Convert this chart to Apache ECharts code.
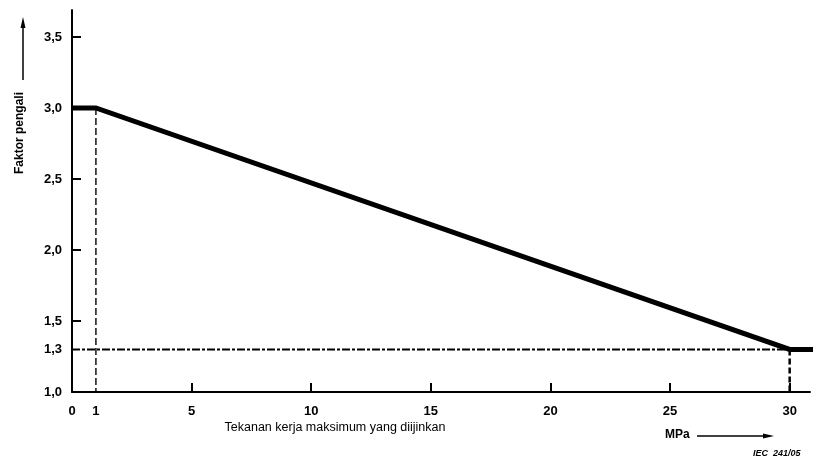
<!DOCTYPE html>
<html>
<head>
<meta charset="utf-8">
<script src="https://cdn.jsdelivr.net/npm/echarts@6/dist/echarts.min.js"></script>
<style>
  *{margin:0;padding:0}
  body{background:#fff}
  #c{width:830px;height:466px}
</style>
</head>
<body>
<div id="c"></div>
<script>
// faktor pengali vs tekanan kerja
const curveX = [0, 1, 30, 31];
const curveY = [3.0, 3.0, 1.3, 1.3];
const refV1 = [[1, 3.0], [1, 1.0]];
const refH = [[0, 1.3], [30, 1.3]];
const refV30 = [[30, 1.3], [30, 1.0]];
const xLabels = [0, 1, 5, 10, 15, 20, 25, 30];
const xTicks = [5, 10, 15, 20, 25, 30];
const yLabels = [1.0, 1.3, 1.5, 2.0, 2.5, 3.0, 3.5];
const yTicks = [1.5, 2.0, 2.5, 3.0, 3.5];

const FONT = 'Liberation Sans';
const INK = '#000';
const comma = v => v.toFixed(1).replace('.', ',');

const chart = echarts.init(document.getElementById('c'));
chart.setOption({
  animation: false,
  backgroundColor: '#fff',
  grid: { left: 72, top: 10, right: 20, bottom: 74, containLabel: false },
  xAxis: {
    type: 'value', min: 0, max: 30.85, interval: 5,
    splitLine: { show: false },
    axisLine: { lineStyle: { color: INK, width: 2 } },
    axisTick: { inside: true, length: 9, lineStyle: { color: INK, width: 2 }, customValues: xTicks },
    axisLabel: { color: INK, fontFamily: FONT, fontSize: 13, fontWeight: 'bold', margin: 13,
      customValues: xLabels, formatter: v => String(v) }
  },
  yAxis: {
    type: 'value', min: 1, max: 3.69, interval: 0.5,
    splitLine: { show: false },
    axisLine: { lineStyle: { color: INK, width: 2 } },
    axisTick: { inside: true, length: 9, lineStyle: { color: INK, width: 2 }, customValues: yTicks },
    axisLabel: { color: INK, fontFamily: FONT, fontSize: 13, fontWeight: 'bold', margin: 10,
      customValues: yLabels, formatter: v => comma(v) }
  },
  series: [
    { type: 'line', data: refV1, symbol: 'none', silent: true,
      lineStyle: { color: INK, width: 1.4, type: [7, 3] } },
    { type: 'line', data: refH, symbol: 'none', silent: true,
      lineStyle: { color: INK, width: 2, type: [8, 2, 3, 2] } },
    { type: 'line', data: refV30, symbol: 'none', silent: true,
      lineStyle: { color: INK, width: 2.5, type: [6, 3] } },
    { type: 'line', data: curveX.map((x, i) => [x, curveY[i]]), symbol: 'none', clip: false,
      lineStyle: { color: INK, width: 5, cap: 'butt', join: 'miter' } }
  ],
  graphic: [
    { type: 'text', x: 20, y: 133, rotation: Math.PI / 2,
      style: { text: 'Faktor pengali', fill: INK, font: 'bold 12px "Liberation Sans"', align: 'center', verticalAlign: 'middle' } },
    { type: 'line', shape: { x1: 23, y1: 80, x2: 23, y2: 24 }, style: { stroke: INK, lineWidth: 1.5 } },
    { type: 'polygon', shape: { points: [[23, 17], [20.5, 28], [25.5, 28]] }, style: { fill: INK } },
    { type: 'text', x: 335, y: 428, style: { text: 'Tekanan kerja maksimum yang diijinkan', fill: INK,
      font: '12.5px "Liberation Sans"', align: 'center', verticalAlign: 'middle' } },
    { type: 'text', x: 665, y: 435, style: { text: 'MPa', fill: INK,
      font: 'bold 12px "Liberation Sans"', align: 'left', verticalAlign: 'middle' } },
    { type: 'line', shape: { x1: 697, y1: 436, x2: 764, y2: 436 }, style: { stroke: INK, lineWidth: 1.5 } },
    { type: 'polygon', shape: { points: [[774, 436], [763, 433.5], [763, 438.5]] }, style: { fill: INK } },
    { type: 'text', x: 753, y: 454, style: { text: 'IEC  241/05', fill: INK,
      font: 'italic bold 9px "Liberation Sans"', align: 'left', verticalAlign: 'middle' } }
  ]
});
</script>
</body>
</html>
